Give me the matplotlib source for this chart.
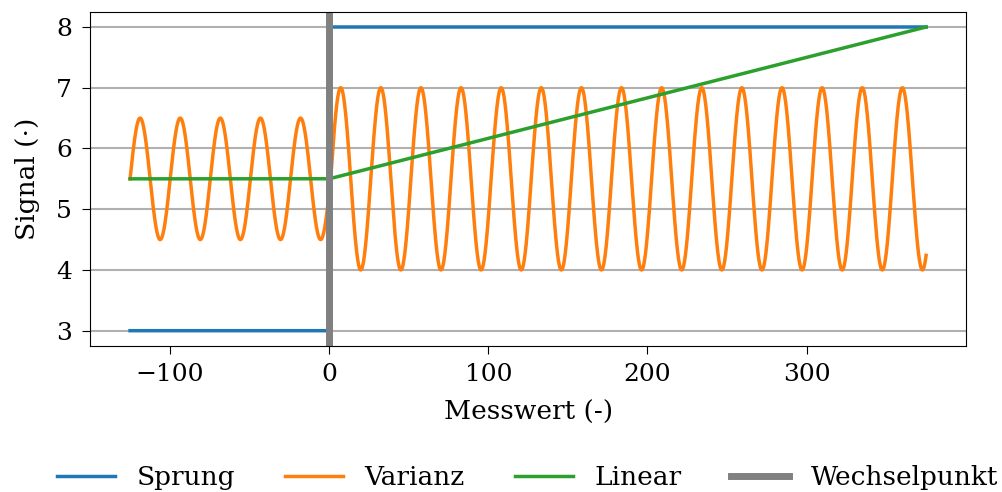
import numpy as np
import matplotlib
matplotlib.use('Agg')
import matplotlib.pyplot as plt

plt.rcParams['font.family'] = 'DejaVu Serif'
plt.rcParams['font.size'] = 19
plt.rcParams['xtick.labelsize'] = 18
plt.rcParams['ytick.labelsize'] = 18
plt.rcParams['xtick.major.size'] = 6
plt.rcParams['ytick.major.size'] = 6
plt.rcParams['xtick.major.pad'] = 6
plt.rcParams['ytick.major.pad'] = 7

# Segmente vor und nach dem Wechselpunkt
x_start = -125
x_wechsel = 0
x_end = 375

# Sprung: Niveau vor / nach dem Wechsel
sprung_niveau = [3, 8]

# Varianz: Mittelwert, Amplitude vor / nach, Periodendauer
varianz_mittel = 5.5
varianz_amplitude = [1.0, 1.5]
varianz_periode = 25.2

# Linear: konstant, dann Rampe bis zum Endwert
linear_werte = [5.5, 5.5, 8.0]

x_vor = np.linspace(x_start, x_wechsel, 600)
x_nach = np.linspace(x_wechsel, x_end, 1800)

sprung = np.concatenate([np.full_like(x_vor, sprung_niveau[0]),
                         np.full_like(x_nach, sprung_niveau[1])])
phase_vor = 2 * np.pi * (x_vor - x_start) / varianz_periode
phase_nach = 2 * np.pi * (x_nach - x_start) / varianz_periode
varianz = np.concatenate([varianz_mittel + varianz_amplitude[0] * np.sin(phase_vor),
                          varianz_mittel + varianz_amplitude[1] * np.sin(phase_nach)])
linear = np.interp(np.concatenate([x_vor, x_nach]),
                   [x_start, x_wechsel, x_end], linear_werte)
x = np.concatenate([x_vor, x_nach])

fig, ax = plt.subplots(figsize=(10.03, 4.92), dpi=100)
ax.plot(x, sprung, color='tab:blue', lw=2.5, label='Sprung')
ax.plot(x, varianz, color='tab:orange', lw=2.5, label='Varianz')
ax.plot(x, linear, color='tab:green', lw=2.5, label='Linear')
ax.axvline(x_wechsel, color='grey', lw=5, label='Wechselpunkt')

ax.set_yticks([3, 4, 5, 6, 7, 8])
ax.set_xticks([-100, 0, 100, 200, 300])
ax.grid(axis='y', color='#b0b0b0', lw=1.5)
ax.set_axisbelow(True)
ax.set_xlabel('Messwert (-)', labelpad=10)
ax.set_ylabel('Signal (·)', labelpad=12)

fig.subplots_adjust(left=0.09, right=0.963, top=0.976, bottom=0.297)
fig.legend(loc='lower center', ncol=4, frameon=False, handlelength=2.2,
           handletextpad=0.8, columnspacing=1.9, bbox_to_anchor=(0.526, -0.045))
fig.savefig('out.png', dpi=100)
